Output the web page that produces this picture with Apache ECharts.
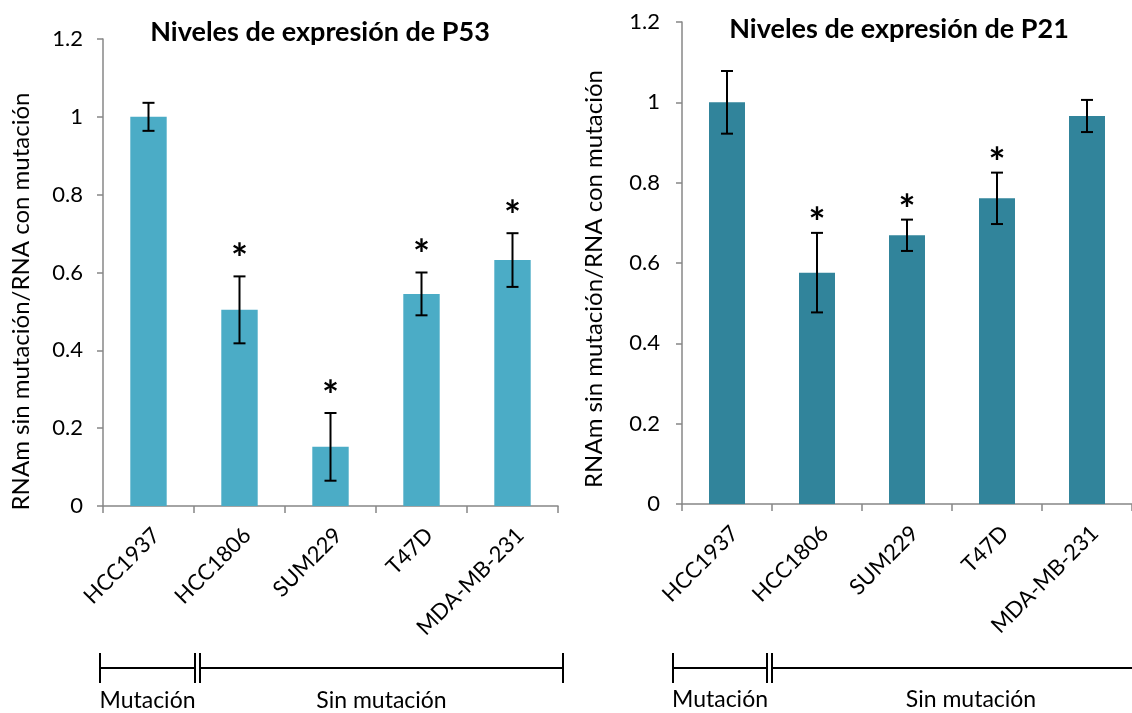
<!DOCTYPE html>
<html><head><meta charset="utf-8">
<script src="https://cdn.jsdelivr.net/npm/echarts@6/dist/echarts.min.js"></script>
<style>html,body{margin:0;padding:0;background:#fff}#c{width:1132px;height:713px}</style>
</head><body><div id="c"></div>
<script>
// ---------- data ----------
const categories = ['HCC1937', 'HCC1806', 'SUM229', 'T47D', 'MDA-MB-231'];
const p53Values = [1.0, 0.504, 0.152, 0.545, 0.632];
const p53Errors = [0.036, 0.086, 0.087, 0.055, 0.069];
const p53Significant = [0, 1, 1, 1, 1];
const p21Values = [1.0, 0.576, 0.669, 0.761, 0.966];
const p21Errors = [0.078, 0.099, 0.039, 0.064, 0.040];
const p21Significant = [0, 1, 1, 1, 0];
const yMin = 0, yMax = 1.2, yStep = 0.2;
const titles = ['Niveles de expresión de P53', 'Niveles de expresión de P21'];
const yAxisName = 'RNAm sin mutación/RNA con mutación';
const groupLabels = ['Mutación', 'Sin mutación'];
const groupSpans = [[0, 0], [1, 4]];

// ---------- styling ----------
const FONT = 'Lato, "Open Sans", sans-serif';
const AXIS_COLOR = '#878787';
const charts = [
  { values: p53Values, errors: p53Errors, sig: p53Significant, color: '#4BACC6',
    grid: { left: 103, top: 39, width: 455, height: 467 },
    titleX: 315, titleY: 14, nameGap: 70, namePad: 58, labelMargin: 20,
    starGap: 16, bracketY: 162, bracketLabelY: 195, shift: 0, tail: 5 },
  { values: p21Values, errors: p21Errors, sig: p21Significant, color: '#31849B',
    grid: { left: 682, top: 22, width: 460, height: 482 },
    titleX: 894, titleY: 11, nameGap: 76, namePad: 32, labelMargin: 22,
    starGap: 9, bracketY: 164, bracketLabelY: 196, shift: -6, tail: 44 }
];

function errRender(cfg) {
  return function (params, api) {
    const x = api.value(0);
    const lo = api.coord([x, api.value(1)]);
    const hi = api.coord([x, api.value(2)]);
    const h = 6;
    const st = { stroke: '#000', lineWidth: 2 };
    const ch = [
      { type: 'line', shape: { x1: hi[0], y1: hi[1], x2: lo[0], y2: lo[1] }, style: st },
      { type: 'line', shape: { x1: hi[0] - h, y1: hi[1], x2: hi[0] + h, y2: hi[1] }, style: st },
      { type: 'line', shape: { x1: lo[0] - h, y1: lo[1], x2: lo[0] + h, y2: lo[1] }, style: st }
    ];
    if (api.value(3)) {
      ch.push({ type: 'text', style: { text: '*', x: hi[0], y: hi[1] - cfg.starGap,
        align: 'center', verticalAlign: 'middle', fontSize: 40, fontWeight: 'bold',
        fontFamily: FONT, fill: '#000' } });
    }
    return { type: 'group', children: ch };
  };
}

function bracketRender(cfg) {
  return function (params, api) {
    const g = params.dataIndex;
    const s = api.value(0), e = api.value(1);
    const band = api.size([1, 0])[0];
    const x0 = api.coord([s, 0])[0] - band / 2;
    const x1 = api.coord([e, 0])[0] + band / 2;
    const y0 = api.coord([0, 0])[1];
    const yb = y0 + cfg.bracketY;
    const last = g === groupSpans.length - 1;
    const left = (g === 0 ? x0 - 3 : x0 + 6) + cfg.shift;
    const right = (last ? x1 + cfg.tail : x1 + 1) + cfg.shift;
    const st = { stroke: '#000', lineWidth: 2 };
    return { type: 'group', children: [
      { type: 'line', shape: { x1: left, y1: yb, x2: right, y2: yb }, style: st },
      { type: 'line', shape: { x1: left, y1: yb - 15, x2: left, y2: yb + 15 }, style: st },
      { type: 'line', shape: { x1: right, y1: yb - 15, x2: right, y2: yb + 15 }, style: st },
      { type: 'text', style: { text: groupLabels[g], x: (left + right) / 2, y: y0 + cfg.bracketLabelY,
        align: 'center', verticalAlign: 'middle', fontSize: 23, fontFamily: FONT, fill: '#000' } }
    ] };
  };
}

const option = {
  animation: false,
  backgroundColor: '#fff',
  title: charts.map((c, i) => ({
    text: titles[i], left: c.titleX, top: c.titleY, textAlign: 'center',
    textStyle: { fontSize: 27, fontWeight: 'bold', fontFamily: FONT, color: '#000' }
  })),
  grid: charts.map(c => Object.assign({ containLabel: false }, c.grid)),
  xAxis: charts.map((c, i) => ({
    type: 'category', gridIndex: i, data: categories,
    axisLine: { lineStyle: { color: AXIS_COLOR, width: 1.5 } },
    axisTick: { show: true, length: 7, lineStyle: { color: AXIS_COLOR, width: 1.5 } },
    axisLabel: { rotate: 45, margin: 18, fontSize: 22, fontFamily: FONT, color: '#000', interval: 0,
      align: 'right', verticalAlign: 'top' },
    splitLine: { show: false }
  })),
  yAxis: charts.map((c, i) => ({
    type: 'value', gridIndex: i, min: yMin, max: yMax, interval: yStep,
    name: yAxisName, nameLocation: 'middle', nameGap: c.nameGap,
    nameTextStyle: { fontSize: 24, fontFamily: FONT, color: '#000', padding: [0, c.namePad, 0, 0] },
    axisLine: { show: true, lineStyle: { color: AXIS_COLOR, width: 1.5 } },
    axisTick: { show: true, length: 6, lineStyle: { color: AXIS_COLOR, width: 1.5 } },
    axisLabel: { margin: c.labelMargin, fontSize: 22, fontFamily: FONT, color: '#000' },
    splitLine: { show: false }
  })),
  series: []
};

charts.forEach((c, i) => {
  option.series.push({
    type: 'bar', xAxisIndex: i, yAxisIndex: i, data: c.values, barWidth: '40%',
    itemStyle: { color: c.color }
  });
  option.series.push({
    type: 'custom', xAxisIndex: i, yAxisIndex: i, z: 5, clip: false,
    data: c.values.map((v, k) => [k, v - c.errors[k], v + c.errors[k], c.sig[k]]),
    renderItem: errRender(c)
  });
  option.series.push({
    type: 'custom', xAxisIndex: i, yAxisIndex: i, z: 5, clip: false,
    data: groupSpans.map(s => [s[0], s[1]]),
    renderItem: bracketRender(c)
  });
});

const chart = echarts.init(document.getElementById('c'), null, { renderer: 'canvas' });
chart.setOption(option);
</script>
</body></html>
